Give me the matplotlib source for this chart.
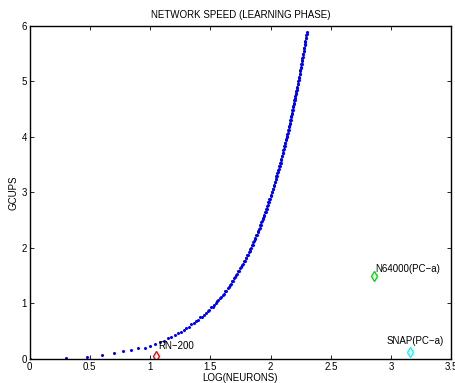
import matplotlib
matplotlib.use("Agg")
import matplotlib.pyplot as plt
import numpy as np

plt.rcParams['font.family'] = ['Liberation Sans', 'DejaVu Sans']

# network size (number of neurons) and measured speed
neurons = np.arange(1, 201)
gcups = [
    0.00, 0.02, 0.04, 0.07, 0.10, 0.15, 0.17, 0.20, 0.19, 0.24,
    0.27, 0.31, 0.33, 0.37, 0.40, 0.43, 0.47, 0.49, 0.53, 0.55,
    0.58, 0.63, 0.64, 0.68, 0.70, 0.75, 0.76, 0.80, 0.82, 0.86,
    0.88, 0.93, 0.94, 0.98, 1.00, 1.04, 1.06, 1.10, 1.11, 1.16,
    1.17, 1.22, 1.23, 1.28, 1.29, 1.34, 1.35, 1.40, 1.41, 1.46,
    1.47, 1.52, 1.53, 1.58, 1.59, 1.64, 1.65, 1.70, 1.71, 1.76,
    1.77, 1.82, 1.82, 1.87, 1.88, 1.93, 1.94, 1.99, 2.00, 2.05,
    2.06, 2.11, 2.12, 2.17, 2.18, 2.23, 2.24, 2.29, 2.30, 2.35,
    2.36, 2.41, 2.42, 2.47, 2.48, 2.53, 2.54, 2.58, 2.59, 2.64,
    2.65, 2.70, 2.71, 2.76, 2.77, 2.82, 2.83, 2.88, 2.89, 2.94,
    2.95, 3.00, 3.01, 3.06, 3.07, 3.12, 3.13, 3.18, 3.19, 3.24,
    3.25, 3.30, 3.30, 3.35, 3.36, 3.41, 3.42, 3.47, 3.48, 3.53,
    3.54, 3.59, 3.60, 3.65, 3.66, 3.71, 3.72, 3.77, 3.78, 3.83,
    3.84, 3.89, 3.90, 3.95, 3.96, 4.00, 4.01, 4.06, 4.07, 4.12,
    4.13, 4.18, 4.19, 4.24, 4.25, 4.30, 4.31, 4.36, 4.37, 4.42,
    4.43, 4.48, 4.49, 4.54, 4.55, 4.60, 4.61, 4.66, 4.66, 4.71,
    4.73, 4.78, 4.79, 4.83, 4.84, 4.89, 4.90, 4.95, 4.96, 5.01,
    5.02, 5.07, 5.08, 5.13, 5.14, 5.19, 5.20, 5.25, 5.26, 5.31,
    5.32, 5.37, 5.38, 5.43, 5.44, 5.49, 5.50, 5.54, 5.55, 5.60,
    5.61, 5.66, 5.67, 5.72, 5.73, 5.78, 5.79, 5.84, 5.85, 5.90,
]

# other machines for comparison
machines = ['RN\u2212200', 'N64000(PC\u2212a)', 'SNAP(PC\u2212a)']
mach_x = [1.05, 2.86, 3.16]
mach_y = [0.05, 1.50, 0.12]
mach_colors = ['red', '#00dd00', 'cyan']
label_x = [1.07, 2.87, 2.96]
label_y = [0.24, 1.62, 0.32]

xticks = [0, 0.5, 1, 1.5, 2, 2.5, 3, 3.5]
yticks = [0, 1, 2, 3, 4, 5, 6]

fig = plt.figure(figsize=(4.56, 3.83), dpi=100)
ax = fig.add_axes([0.0647, 0.0627, 0.925, 0.8695])

ax.plot(np.log10(neurons), gcups, '.', color='blue', markersize=2.4)
for i in range(len(machines)):
    ax.plot(mach_x[i], mach_y[i], 'd', color=mach_colors[i], mfc='none',
            markersize=5, mew=1)
    ax.text(label_x[i], label_y[i], machines[i], fontsize=7, va='center', ha='left')

ax.set_xlim(0, 3.5)
ax.set_ylim(0, 6)
ax.set_xticks(xticks)
ax.set_xticklabels([('%g' % t) for t in xticks])
ax.set_yticks(yticks)
ax.set_yticklabels([str(t) for t in yticks])
ax.tick_params(direction='in', top=True, right=True, length=3, labelsize=7,
               width=0.6, pad=2)
for s in ax.spines.values():
    s.set_linewidth(1.0)

ax.set_title('NETWORK SPEED (LEARNING PHASE)', fontsize=7, pad=6)
ax.set_xlabel('LOG(NEURONS)', fontsize=7, labelpad=1)
ax.set_ylabel('GCUPS', fontsize=7, labelpad=2)

fig.savefig('out.png', dpi=100)
